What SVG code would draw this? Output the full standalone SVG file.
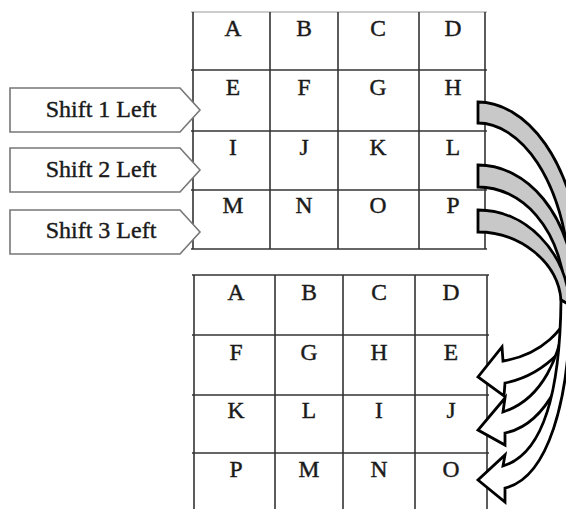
<svg xmlns="http://www.w3.org/2000/svg" width="566" height="509" viewBox="0 0 566 509">
<style>
.g{stroke:#333;stroke-width:1.6;fill:none}
.gl{stroke:#bbb;stroke-width:1.6;fill:none}
.t{font-family:"Liberation Serif","Times New Roman",serif;font-size:23.5px;text-anchor:middle;fill:#1a1a1a;stroke:#1a1a1a;stroke-width:0.45}
.s{font-family:"Liberation Serif","Times New Roman",serif;font-size:24px;text-anchor:middle;fill:#1a1a1a;stroke:#1a1a1a;stroke-width:0.4}
.tag{fill:#fff;stroke:#777;stroke-width:1.6}
.back{fill:#c8c8c8;stroke:#000;stroke-width:2.8;stroke-linejoin:miter}
.front{fill:#fff;stroke:#000;stroke-width:2.8;stroke-linejoin:miter}
</style>
<rect width="566" height="509" fill="#fff"/>
<g id="top-grid">
<line class="gl" x1="191" y1="12" x2="487" y2="12"/>
<line class="g" x1="191" y1="70" x2="487" y2="70"/>
<line class="g" x1="191" y1="131" x2="487" y2="131"/>
<line class="g" x1="191" y1="190" x2="487" y2="190"/>
<line class="g" x1="191" y1="249" x2="487" y2="249"/>
<line class="g" x1="193" y1="12" x2="193" y2="249"/>
<line class="g" x1="270" y1="12" x2="270" y2="249"/>
<line class="g" x1="338" y1="12" x2="338" y2="249"/>
<line class="g" x1="419" y1="12" x2="419" y2="249"/>
<line class="g" x1="485" y1="12" x2="485" y2="249"/>
<text class="t" x="233" y="36">A</text><text class="t" x="304" y="36">B</text><text class="t" x="378" y="36">C</text><text class="t" x="453" y="36">D</text>
<text class="t" x="233" y="95">E</text><text class="t" x="304" y="95">F</text><text class="t" x="378" y="95">G</text><text class="t" x="453" y="95">H</text>
<text class="t" x="233" y="155">I</text><text class="t" x="304" y="155">J</text><text class="t" x="378" y="155">K</text><text class="t" x="453" y="155">L</text>
<text class="t" x="233" y="213">M</text><text class="t" x="304" y="213">N</text><text class="t" x="378" y="213">O</text><text class="t" x="453" y="213">P</text>
</g>
<g id="bottom-grid">
<line class="g" x1="192" y1="275" x2="489" y2="275"/>
<line class="g" x1="192" y1="335" x2="489" y2="335"/>
<line class="g" x1="192" y1="395" x2="489" y2="395"/>
<line class="g" x1="192" y1="453" x2="489" y2="453"/>
<line class="g" x1="194" y1="275" x2="194" y2="509"/>
<line class="g" x1="275" y1="275" x2="275" y2="509"/>
<line class="g" x1="343" y1="275" x2="343" y2="509"/>
<line class="g" x1="415" y1="275" x2="415" y2="509"/>
<line class="g" x1="487" y1="275" x2="487" y2="509"/>
<text class="t" x="236" y="300">A</text><text class="t" x="309" y="300">B</text><text class="t" x="379" y="300">C</text><text class="t" x="451" y="300">D</text>
<text class="t" x="236" y="360">F</text><text class="t" x="309" y="360">G</text><text class="t" x="379" y="360">H</text><text class="t" x="451" y="360">E</text>
<text class="t" x="236" y="418">K</text><text class="t" x="309" y="418">L</text><text class="t" x="379" y="418">I</text><text class="t" x="451" y="418">J</text>
<text class="t" x="236" y="477">P</text><text class="t" x="309" y="477">M</text><text class="t" x="379" y="477">N</text><text class="t" x="451" y="477">O</text>
</g>
<g id="shift1">
<path class="tag" d="M10,88 L180,88 L200,110 L180,132 L10,132 Z"/>
<text class="s" x="101" y="117">Shift 1 Left</text>
</g>
<g id="shift2">
<path class="tag" d="M10,148 L180,148 L200,170 L180,192 L10,192 Z"/>
<text class="s" x="101" y="177">Shift 2 Left</text>
</g>
<g id="shift3">
<path class="tag" d="M10,210 L180,210 L200,232 L180,254 L10,254 Z"/>
<text class="s" x="101" y="238">Shift 3 Left</text>
</g>
<g id="connectors">
<path class="back" d="M478,102 C520,102 580,150 585,295 L572,300 C568,170 515,123 478,123 Z"/>
<path class="front" d="M572,300 C568,330 540,355 503,361 L502,347 L478,377 L504,396 L505,383 C545,375 580,340 585,300 Z"/>
<path class="back" d="M478,165 C525,165 572,210 577,300 L566,300 C562,225 520,187 478,187 Z"/>
<path class="front" d="M566,300 C563,360 540,400 503,412 L505,398 L478,430 L505,445 L505,433 C545,425 575,370 577,300 Z"/>
<path class="back" d="M478,210 C525,210 566,250 570,305 L561,300 C558,262 520,232 478,232 Z"/>
<path class="front" d="M561,300 C560,400 540,455 503,466 L505,455 L478,480 L505,502 L505,488 C548,478 570,400 570,305 Z"/>
</g>
</svg>
